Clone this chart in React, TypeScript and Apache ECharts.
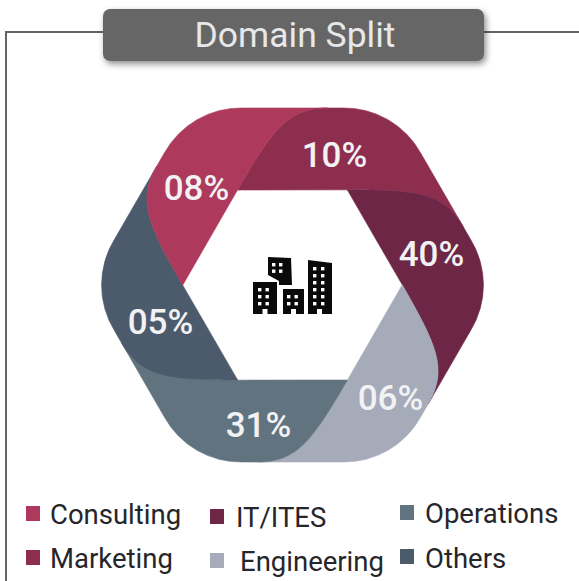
import React, { useEffect, useRef } from "react";
import * as echarts from "echarts";

const categories = ["Marketing", "IT/ITES", "Engineering", "Operations", "Others", "Consulting"];
const values = [10, 40, 6, 31, 5, 8];
const valueLabels = ["10%", "40%", "06%", "31%", "05%", "08%"];
const colors = ["#8e2e4f", "#6d2646", "#a5abb9", "#627380", "#4b5b6b", "#ad3a5c"];
const labelAnchors = [[42, -130], [139, -31], [98, 113], [-34, 140], [-132, 37], [-96, -97]];
const legendOrder = [
  ["Consulting", 26, 506, 50, 514],
  ["Marketing", 26, 550, 50, 558],
  ["IT/ITES", 210, 509, 236, 517],
  ["Engineering", 210, 553, 240, 561],
  ["Operations", 400, 505, 425, 513],
  ["Others", 400, 549, 425, 558],
] as const;

const CX = 292.5, CY = 285, INNER_H = 95, INNER_HALF = 55, OUTER_H = 177;
const TANGENT = 50, SEAM = 35, R = 87;

const rot = (p: number[], k: number) => {
  const a = (k * Math.PI) / 3;
  const c = Math.cos(a), s = Math.sin(a);
  return [CX + p[0] * c - p[1] * s, CY + p[0] * s + p[1] * c];
};
const f = (p: number[]) => `${p[0].toFixed(2)} ${p[1].toFixed(2)}`;

function segmentPath(k: number) {
  const A = [-INNER_HALF, -INNER_H];
  const c1 = [-20, -155], c2 = [-5, -OUTER_H], P = [SEAM, -OUTER_H];
  const T = [TANGENT, -OUTER_H], T2 = [-TANGENT, -OUTER_H];
  return (
    `M${f(rot(A, k))} C${f(rot(c1, k))} ${f(rot(c2, k))} ${f(rot(P, k))} L${f(rot(T, k))} ` +
    `A${R} ${R} 0 0 1 ${f(rot(T2, k + 1))} L${f(rot(P, k + 1))} ` +
    `C${f(rot(c2, k + 1))} ${f(rot(c1, k + 1))} ${f(rot(A, k + 1))} Z`
  );
}

const win = (x: number, y: number, cols: number, rows: number, dx: number, dy: number) => {
  const out: any[] = [];
  for (let i = 0; i < cols; i++)
    for (let j = 0; j < rows; j++)
      out.push({ type: "rect", shape: { x: x + i * dx, y: y + j * dy, width: 3.4, height: 3.4 }, style: { fill: "#fff" } });
  return out;
};
const icon = [
  { type: "polygon", shape: { points: [[268, 257], [291, 258], [292, 285], [279, 285], [279, 281], [268, 275]] }, style: { fill: "#0a0a0a" } },
  { type: "rect", shape: { x: 253, y: 282, width: 24, height: 32 }, style: { fill: "#0a0a0a" } },
  { type: "rect", shape: { x: 283, y: 289, width: 21, height: 25 }, style: { fill: "#0a0a0a" } },
  { type: "polygon", shape: { points: [[308, 260], [332, 263], [332, 314], [308, 314]] }, style: { fill: "#0a0a0a" } },
  ...win(272, 263, 2, 2, 7, 6.5),
  ...win(258, 288, 2, 3, 7.5, 7),
  ...win(287, 295, 2, 2, 7.5, 7),
  ...win(313, 267, 2, 6, 8, 7),
  { type: "rect", shape: { x: 262.5, y: 309, width: 5, height: 5 }, style: { fill: "#fff" } },
  { type: "rect", shape: { x: 291, y: 309, width: 5, height: 5 }, style: { fill: "#fff" } },
  { type: "rect", shape: { x: 317, y: 309, width: 5, height: 5 }, style: { fill: "#fff" } },
];

export default function App() {
  const ref = useRef<HTMLDivElement>(null);
  useEffect(() => {
    const chart = echarts.init(ref.current!, null, { renderer: "svg" });
    chart.setOption({
      animation: false,
      backgroundColor: "#fff",
      series: [
        {
          type: "custom",
          coordinateSystem: "none",
          silent: true,
          data: values.map((v, i) => ({ name: categories[i], value: v })),
          renderItem: (params: any) => {
            const i = params.dataIndex;
            return {
              type: "group",
              children: [
                {
                  type: "path",
                  shape: { pathData: segmentPath(i) },
                  style: { fill: colors[i], stroke: colors[i], lineWidth: 0.6 },
                },
                {
                  type: "text",
                  z2: 10,
                  style: {
                    x: CX + labelAnchors[i][0],
                    y: CY + labelAnchors[i][1],
                    text: valueLabels[i],
                    fill: "#f2f2f4",
                    font: "500 35px Roboto",
                    align: "center",
                    verticalAlign: "middle",
                  },
                },
              ],
            };
          },
        },
      ],
      graphic: [
        { type: "polyline", z: 1, shape: { points: [[579, 32], [6, 32], [6, 581]] }, style: { fill: "none", stroke: "#6a625f", lineWidth: 2 } },
        {
          type: "rect", z: 2,
          shape: { x: 103, y: 9, width: 381, height: 52, r: 7 },
          style: { fill: "#666666", shadowBlur: 6, shadowOffsetX: 2, shadowOffsetY: 3, shadowColor: "rgba(0,0,0,0.45)" },
        },
        { type: "text", z: 3, style: { x: 295, y: 35, text: "Domain Split", fill: "#e6e8ea", font: "400 35.5px Roboto", align: "center", verticalAlign: "middle" } },
        { type: "group", z: 3, children: icon },
        ...legendOrder.flatMap(([name, sx, sy, tx, ty]) => [
          { type: "rect", z: 3, shape: { x: sx, y: sy, width: 14, height: 15 }, style: { fill: colors[categories.indexOf(name)] } },
          { type: "text", z: 3, style: { x: tx, y: ty, text: name, fill: "#26262a", font: "400 27.5px Roboto", verticalAlign: "middle" } },
        ]),
      ],
    });
    return () => chart.dispose();
  }, []);
  return <div ref={ref} style={{ position: "fixed", left: 0, top: 0, width: 579, height: 581 }} />;
}
